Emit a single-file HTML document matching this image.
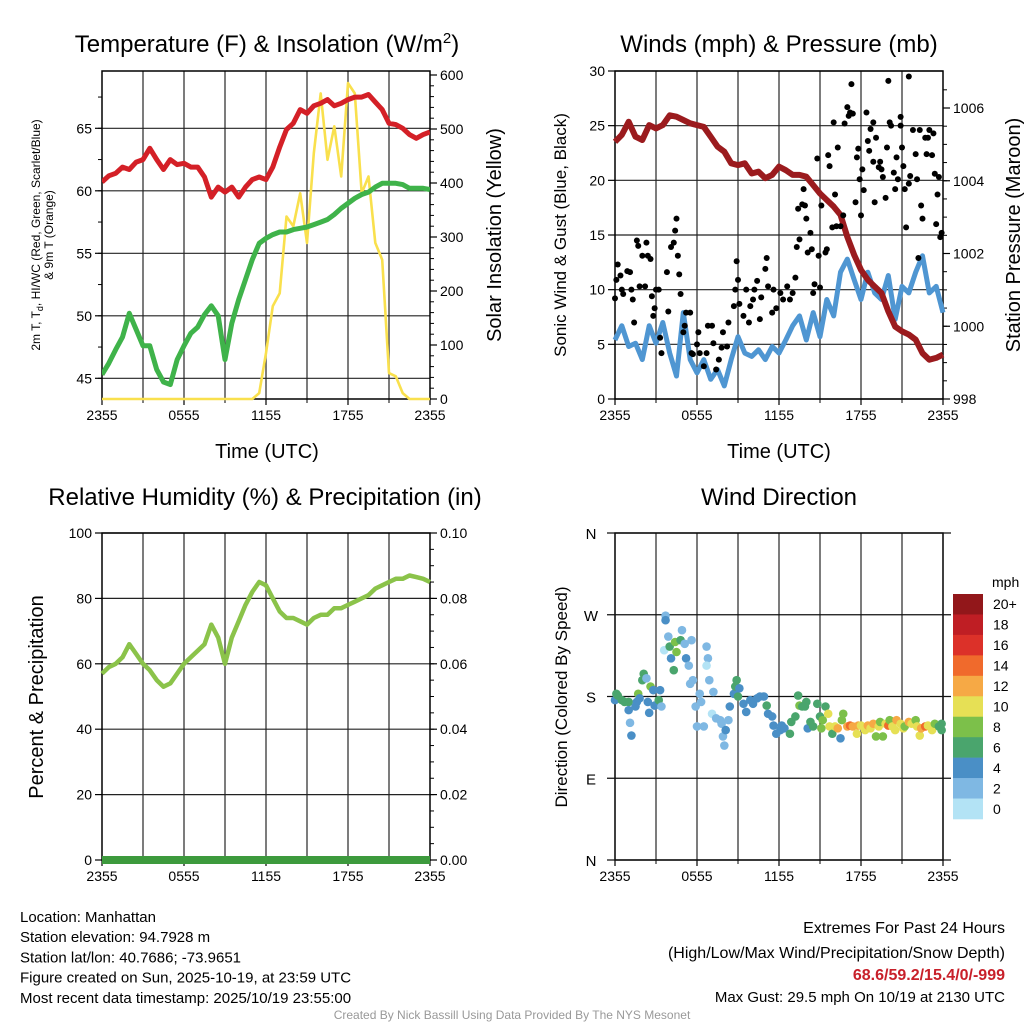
<!DOCTYPE html>
<html><head><meta charset="utf-8"><style>
html,body{margin:0;padding:0;background:#fff}
svg{display:block;font-family:"Liberation Sans",sans-serif}
</style></head><body>
<svg id="c" width="1024" height="1024" viewBox="0 0 1024 1024"></svg>
<script>
// ---- data ----
const hours = [];
for (let i = 0; i <= 48; i++) hours.push(i * 0.5);
const tempF = [60.7,61.2,61.4,61.9,61.7,62.3,62.5,63.4,62.5,61.7,62.5,62.1,62.2,61.9,61.9,61.1,59.5,60.3,59.9,60.3,59.5,60.3,60.9,61.1,60.9,61.9,63.5,64.9,65.4,66.5,66.2,66.8,67.0,67.3,66.8,67.0,67.3,67.5,67.5,67.7,67.1,66.5,65.4,65.3,65.0,64.5,64.2,64.5,64.7];
const dewF = [45.3,46.2,47.3,48.3,50.2,48.9,47.6,47.6,45.7,44.7,44.5,46.5,47.6,48.6,49.1,50.1,50.8,50.0,46.5,49.4,51.3,52.9,54.5,55.8,56.2,56.5,56.7,56.7,56.9,57.0,57.1,57.3,57.5,57.7,58.1,58.6,59.0,59.4,59.7,59.9,60.3,60.6,60.6,60.6,60.5,60.2,60.2,60.2,60.1];
const solarW = [0,0,0,0,0,0,0,0,0,0,0,0,0,0,0,0,0,0,0,0,0,0,0,11,85,172,196,338,320,381,289,455,566,443,505,412,585,566,381,412,289,258,48,42,11,0,0,0,0];
const pressMb = [1005.07,1005.26,1005.62,1005.21,1005.12,1005.53,1005.44,1005.53,1005.80,1005.76,1005.67,1005.58,1005.53,1005.48,1005.21,1004.94,1004.80,1004.48,1004.43,1004.48,1004.20,1004.25,1004.07,1004.16,1004.39,1004.29,1004.16,1004.16,1004.11,1003.88,1003.65,1003.47,1003.29,1003.06,1002.46,1001.96,1001.55,1001.28,1001.09,1000.91,1000.41,999.99,999.86,999.77,999.63,999.26,999.08,999.13,999.22];
const windMph = [5.4,6.7,4.8,5.1,3.6,6.7,5.1,7.0,4.2,2.1,7.9,3.6,2.4,3.6,1.8,2.7,1.2,3.6,5.7,4.2,3.9,4.5,3.6,4.8,4.2,5.4,6.7,7.6,5.4,7.9,5.7,9.1,7.6,11.6,12.8,10.9,9.1,11.6,9.7,9.1,11.3,7.3,10.3,9.7,11.6,13.1,9.7,10.3,7.9];
const gustHr = [0.0,0.1,0.2,0.4,0.5,0.6,0.9,1.1,1.2,1.3,1.4,1.6,1.7,1.8,2.0,2.2,2.3,2.4,2.6,2.7,2.8,2.9,3.0,3.2,3.3,3.4,3.8,3.9,4.1,4.3,4.4,4.5,4.6,4.7,4.8,5.0,5.1,5.2,5.5,5.6,5.7,6.0,6.1,6.2,6.5,6.7,6.8,7.1,7.2,7.4,7.6,7.8,7.9,8.2,8.3,8.7,8.8,8.9,9.0,9.1,9.4,9.6,9.8,9.9,10.1,10.2,10.4,10.6,10.7,11.0,11.1,11.2,11.5,11.6,11.8,12.1,12.3,12.6,12.8,13.0,13.2,13.3,13.4,13.5,13.7,13.8,13.9,14.0,14.1,14.3,14.4,14.5,14.6,14.8,14.9,15.0,15.1,15.4,15.5,15.6,15.7,15.9,16.0,16.1,16.2,16.3,16.5,16.7,16.8,17.0,17.1,17.2,17.3,17.4,17.6,17.7,17.8,17.9,18.0,18.1,18.2,18.4,18.5,18.6,18.7,18.9,18.9,19.0,19.1,19.3,19.4,19.5,19.6,19.8,19.9,20.0,20.1,20.2,20.4,20.5,20.6,20.7,20.9,20.9,21.0,21.1,21.2,21.3,21.5,21.5,21.6,21.8,22.0,22.1,22.2,22.3,22.4,22.5,22.7,22.8,22.9,23.0,23.2,23.3,23.4,23.5,23.6,23.7,23.8,23.9];
const gustMph = [9.2,10.9,12.3,11.3,10.0,9.6,11.7,11.6,10.0,9.1,7.0,14.5,14.0,10.3,13.1,10.3,14.3,13.1,12.8,9.4,7.6,8.3,10.0,10.0,5.6,4.2,11.6,8.0,13.9,14.3,15.4,16.5,13.1,11.4,9.6,6.1,6.7,7.9,7.9,4.2,4.1,5.0,6.1,4.2,3.0,4.2,6.7,6.7,5.1,2.7,3.6,4.7,6.1,4.8,7.0,8.5,10.0,12.6,10.9,8.7,7.6,10.0,7.0,8.5,9.1,10.0,10.8,7.3,9.3,11.9,12.9,10.3,7.9,10.0,8.3,9.7,9.1,10.3,9.1,9.7,11.1,13.9,17.4,14.6,17.8,19.2,17.7,16.5,13.4,15.2,13.7,9.7,10.5,22.0,13.1,10.2,17.7,13.4,13.7,22.3,21.3,15.7,25.3,18.7,15.8,23.0,15.8,16.8,25.2,26.7,25.9,26.2,28.8,26.1,18.0,22.1,22.9,20.1,16.8,21.0,19.1,26.2,23.6,22.7,24.7,25.3,21.7,18.0,23.9,21.2,21.7,21.0,20.3,18.4,23.0,29.1,25.3,25.0,20.7,19.2,22.1,20.1,25.8,25.0,23.0,21.3,19.2,15.7,19.7,29.5,20.4,24.6,22.4,20.1,12.9,24.6,17.7,16.5,23.9,22.4,23.9,24.6,22.3,24.3,20.6,16.0,18.7,20.3,14.8,15.2];
const rhPct = [57,59,60,62,66,63,60,58,55,53,54,57,60,62,64,66,72,68,60,68,73,78,82,85,84,80,76,74,74,73,72,74,75,75,77,77,78,79,80,81,83,84,85,86,86,87,86.5,86,85];
const precipIn = hours.map(() => 0);
const dirHr = [0,0.1,0.2,0.5,0.7,1.0,1.0,1.1,1.2,1.5,1.6,1.7,1.8,2.0,2.1,2.3,2.4,2.6,2.5,2.8,2.9,3.2,3.3,3.4,3.7,3.7,3.6,3.9,4.0,4.1,4.3,4.4,4.5,4.8,4.9,5.1,5.2,5.4,5.5,5.6,5.7,5.9,6.0,6.2,6.3,6.5,6.7,6.8,6.7,6.9,7.2,7.1,7.4,7.7,7.8,7.9,8.0,8.1,8.3,8.4,8.7,8.8,8.9,9.0,9.1,9.4,9.6,9.9,10.1,10.4,10.6,10.9,11.1,11.2,11.5,11.6,11.8,12.1,12.2,12.4,12.8,12.9,13.2,13.4,13.5,13.7,13.9,14.0,14.1,14.3,14.5,14.8,15.0,15.1,15.2,15.4,15.6,15.7,15.9,16.1,16.3,16.5,16.6,16.7,17.0,17.2,17.4,17.7,17.8,18.0,18.3,18.5,18.7,18.9,19.1,19.3,19.4,19.6,19.8,20.0,20.1,20.3,20.5,20.6,20.9,21.1,21.2,21.5,21.7,22.0,22.1,22.3,22.4,22.7,22.9,23.2,23.4,23.7,23.9,23.9];
const dirDeg = [176,183,181,176,174,174,165,151,137,169,174,183,178,198,205,200,174,191,162,187,170,176,187,169,269,264,231,246,235,222,209,240,229,242,253,238,222,214,194,242,198,169,147,183,174,147,235,222,214,198,185,161,156,154,150,136,126,143,154,169,183,191,198,180,189,172,163,176,172,178,180,180,170,161,158,148,139,143,148,145,139,152,158,181,170,169,169,174,145,152,147,172,158,145,154,169,161,147,139,147,145,134,154,161,147,148,147,139,148,148,143,148,145,150,136,147,152,136,150,148,154,147,143,154,150,145,147,152,150,154,147,137,145,147,148,143,150,147,150,143];
const dirSpd = [5,7,7,7,7,7,5,3,5,5,5,9,5,7,7,3,5,9,5,5,5,7,5,3,3,5,1,3,7,5,7,9,9,7,3,3,5,3,3,3,3,3,3,3,3,3,3,3,1,3,3,1,3,3,3,3,3,5,3,5,5,7,7,7,5,5,5,5,5,5,5,5,7,5,5,5,5,5,5,5,7,7,7,7,9,7,7,7,5,7,7,7,7,9,9,7,11,11,7,11,13,5,9,9,13,15,13,11,13,11,11,13,11,13,9,11,9,9,11,15,9,11,11,13,11,11,9,13,11,9,11,11,13,15,11,11,9,7,7,7];
const cbLabels = ["20+","18","16","14","12","10","8","6","4","2","0"];
const cbColors = ["#92171a","#bf1e24","#dc3129","#f06a2c","#f6a945","#e6e055","#7cc04a","#4aa56d","#4a8fc6","#7fb8e3","#b3e3f5"];
const xTickLabels = ["2355","0555","1155","1755","2355"];
const tempTicks = [45,50,55,60,65];
const solarTicks = [0,100,200,300,400,500,600];
const windTicks = [0,5,10,15,20,25,30];
const pressTicks = [998,1000,1002,1004,1006];
const rhTicks = [0,20,40,60,80,100];
const pcpTicks = ["0.00","0.02","0.04","0.06","0.08","0.10"];
const dirTicks = ["N","E","S","W","N"];

// ---- helpers ----
const NS = "http://www.w3.org/2000/svg";
const svg = document.getElementById("c");
function el(tag, attrs, parent, text) {
  const e = document.createElementNS(NS, tag);
  for (const k in attrs) e.setAttribute(k, attrs[k]);
  if (text !== undefined) e.textContent = text;
  (parent || svg).appendChild(e);
  return e;
}
function lin(d0, d1, r0, r1) { return v => r0 + (v - d0) * (r1 - r0) / (d1 - d0); }
function pathFrom(xs, ys, fx, fy) {
  return xs.map((x, i) => (i ? "L" : "M") + fx(x).toFixed(1) + "," + fy(ys[i]).toFixed(1)).join("");
}
function spdColor(s) { let i = Math.min(10, Math.floor(s / 2)); return cbColors[10 - i]; }

function frame(g, L, R, T, B, fx, hGrid) {
  for (let h = 3; h < 24; h += 3) el("line", {x1: fx(h), x2: fx(h), y1: T, y2: B, stroke: "#444", "stroke-width": 1.4}, g);
  hGrid.forEach(y => el("line", {x1: L, x2: R, y1: y, y2: y, stroke: "#222", "stroke-width": 1.2}, g));
  el("rect", {x: L, y: T, width: R - L, height: B - T, fill: "none", stroke: "#000", "stroke-width": 1.5}, g);
  xTickLabels.forEach((t, i) => {
    const x = fx(i * 6);
    el("line", {x1: x, x2: x, y1: B, y2: B + 6, stroke: "#000", "stroke-width": 1.2}, g);
    const tx = el("text", {x: x, y: B + 21, "font-size": 14, "text-anchor": "middle"}, g, t);
    
    
  });
  for (let h = 3; h < 24; h += 6) el("line", {x1: fx(h), x2: fx(h), y1: B, y2: B + 4, stroke: "#000"}, g);
}
function yTicks(g, x, vals, fy, side, labels, minorStep, lo, hi) {
  const d = side === "L" ? -1 : 1;
  if (minorStep) for (let v = lo; v <= hi + 1e-9; v += minorStep) el("line", {x1: x, x2: x + d * 4, y1: fy(v), y2: fy(v), stroke: "#000"}, g);
  vals.forEach((v, i) => {
    el("line", {x1: x, x2: x + d * 7, y1: fy(v), y2: fy(v), stroke: "#000", "stroke-width": 1.2}, g);
    const t = el("text", {x: x + d * 10, y: fy(v) + 5, "font-size": 14, "text-anchor": side === "L" ? "end" : "start"}, g, labels ? labels[i] : v);
    
    
  });
}
function rotText(g, x, y, txt, size, name) {
  const t = el("text", {x: 0, y: 0, "font-size": size, "text-anchor": "middle", transform: `translate(${x},${y}) rotate(-90)`}, g, txt);
  
  
  return t;
}
function title(g, x, y, txt, name) {
  const t = el("text", {x: x, y: y, "font-size": 24, "text-anchor": "middle"}, g, txt);
  
  
  return t;
}

// ---- Panel 1: temperature ----
{
  const g = el("g", {});  
  const L = 102, R = 430, T = 71, B = 399;
  const fx = lin(0, 24, L, R), fy = lin(45, 65, 378.3, 128.3), fs = lin(0, 600, 399, 75);
  frame(g, L, R, T, B, fx, tempTicks.map(fy));
  yTicks(g, L, tempTicks, fy, "L", null, 2.5, 45, 67.5);
  yTicks(g, R, solarTicks, fs, "R", null, 20, 0, 600);
  const cl = el("clipPath", {id: "cp1"}, g); el("rect", {x: L, y: T - 4, width: R - L, height: B - T + 8}, cl);
  const sg = el("g", {"clip-path": "url(#cp1)"}, g);
  const s1 = el("path", {d: pathFrom(hours, solarW, fx, fs), fill: "none", stroke: "#f9e04d", "stroke-width": 2.6, "stroke-linejoin": "round"}, sg);
   
  const s2 = el("path", {d: pathFrom(hours, dewF, fx, fy), fill: "none", stroke: "#3fb34a", "stroke-width": 5, "stroke-linejoin": "round"}, sg);
   
  const s3 = el("path", {d: pathFrom(hours, tempF, fx, fy), fill: "none", stroke: "#d42027", "stroke-width": 5, "stroke-linejoin": "round"}, sg);
   
  const t = el("text", {x: 267, y: 52, "font-size": 24, "text-anchor": "middle"}, g);
  t.innerHTML = 'Temperature (F) &amp; Insolation (W/m<tspan dy="-9" font-size="15">2</tspan><tspan dy="9">)</tspan>';
   
  const yl = el("text", {"font-size": 12, "text-anchor": "middle", transform: "translate(40,235) rotate(-90)"}, g);
  yl.innerHTML = '<tspan x="0" dy="0">2m T, T<tspan font-size="9" dy="3">d</tspan><tspan dy="-3">, HI/WC (Red, Green, Scarlet/Blue)</tspan></tspan><tspan x="0" dy="13">&amp; 9m T (Orange)</tspan>';
   
  rotText(g, 501, 235, "Solar Insolation (Yellow)", 20, "solar-y-axis-title");
  const xl = el("text", {x: 267, y: 458, "font-size": 20, "text-anchor": "middle"}, g, "Time (UTC)");
   
}

// ---- Panel 2: winds & pressure ----
{
  const g = el("g", {});  
  const L = 615, R = 943, T = 71, B = 399;
  const fx = lin(0, 24, L, R), fy = lin(0, 30, 399, 71), fp = lin(998, 1006, 399, 108);
  frame(g, L, R, T, B, fx, windTicks.map(fy));
  yTicks(g, L, windTicks, fy, "L", null, 0, 0, 0);
  yTicks(g, R, pressTicks, fp, "R", null, 0.5, 998, 1006.5);
  const b = el("path", {d: pathFrom(hours, windMph, fx, fy), fill: "none", stroke: "#4f96d2", "stroke-width": 5, "stroke-linejoin": "round"}, g);
   
  const p = el("path", {d: pathFrom(hours, pressMb, fx, fp), fill: "none", stroke: "#9b1b1e", "stroke-width": 6, "stroke-linejoin": "round"}, g);
   
  gustHr.forEach((h, i) => {
    const c = el("circle", {cx: fx(h), cy: fy(gustMph[i]), r: 3, fill: "#000"}, g);
    
    
  });
  title(g, 779, 52, "Winds (mph) & Pressure (mb)", "winds-title");
  rotText(g, 566, 235, "Sonic Wind & Gust (Blue, Black)", 17, "wind-y-axis-title");
  rotText(g, 1020, 235, "Station Pressure (Maroon)", 20, "pressure-y-axis-title");
  const xl = el("text", {x: 779, y: 458, "font-size": 20, "text-anchor": "middle"}, g, "Time (UTC)");
   
}

// ---- Panel 3: RH & precip ----
{
  const g = el("g", {});  
  const L = 102, R = 430, T = 533, B = 860;
  const fx = lin(0, 24, L, R), fy = lin(0, 100, B, T), fq = lin(0, 0.1, B, T);
  frame(g, L, R, T, B, fx, rhTicks.map(fy));
  yTicks(g, L, rhTicks, fy, "L", null, 0, 0, 0);
  yTicks(g, R, pcpTicks.map(Number), fq, "R", pcpTicks, 0.005, 0, 0.1);
  const r = el("path", {d: pathFrom(hours, rhPct, fx, fy), fill: "none", stroke: "#8bc34a", "stroke-width": 4.5, "stroke-linejoin": "round"}, g);
   
  const q = el("path", {d: pathFrom(hours, precipIn, fx, fq), fill: "none", stroke: "#3d9a3d", "stroke-width": 8}, g);
   
  title(g, 265, 505, "Relative Humidity (%) & Precipitation (in)", "humidity-title");
  rotText(g, 43, 697, "Percent & Precipitation", 20, "humidity-y-axis-title");
}

// ---- Panel 4: wind direction ----
{
  const g = el("g", {});  
  const L = 615, R = 943, T = 533, B = 860;
  const fx = lin(0, 24, L, R), fy = lin(0, 360, B, T);
  frame(g, L, R, T, B, fx, []);
  [0, 90, 180, 270, 360].forEach((v, i) => {
    el("line", {x1: L - 8, x2: R + 8, y1: fy(v), y2: fy(v), stroke: "#111", "stroke-width": 1.3}, g);
    const t = el("text", {x: L - 24, y: fy(v) + 6, "font-size": 15, "text-anchor": "middle"}, g, dirTicks[i]);
     
  });
  dirHr.forEach((h, i) => {
    const c = el("circle", {cx: fx(h), cy: fy(dirDeg[i]), r: 4.3, fill: spdColor(dirSpd[i])}, g);
    
    
  });
  title(g, 779, 505, "Wind Direction", "wind-direction-title");
  rotText(g, 567, 697, "Direction (Colored By Speed)", 17, "direction-y-axis-title");
  const cb = el("g", {}, g);  
  const h0 = (819 - 594) / cbColors.length;
  cbColors.forEach((c, i) => {
    el("rect", {x: 953, y: 594 + i * h0, width: 30, height: h0 + 0.3, fill: c}, cb);
    const t = el("text", {x: 993, y: 594 + i * h0 + h0 / 2 + 5, "font-size": 14}, cb, cbLabels[i]);
     
  });
  const u = el("text", {x: 992, y: 587, "font-size": 14}, cb, "mph");
   
}

// ---- footer ----
{
  const g = el("g", {"font-size": 15});  
  ["Location: Manhattan","Station elevation: 94.7928 m","Station lat/lon: 40.7686; -73.9651","Figure created on Sun, 2025-10-19, at 23:59 UTC","Most recent data timestamp: 2025/10/19 23:55:00"].forEach((s, i) => {
    const t = el("text", {x: 20, y: 922 + i * 20.2}, g, s);
     
  });
  const g2 = el("g", {"font-size": 15, "text-anchor": "end"});  
  let t = el("text", {x: 1005, y: 933, "font-size": 16}, g2, "Extremes For Past 24 Hours");  
  t = el("text", {x: 1005, y: 958, "font-size": 16}, g2, "(High/Low/Max Wind/Precipitation/Snow Depth)");  
  t = el("text", {x: 1005, y: 980, fill: "#c8202a", "font-weight": "bold", "font-size": 16}, g2, "68.6/59.2/15.4/0/-999");  
  t = el("text", {x: 1005, y: 1002}, g2, "Max Gust: 29.5 mph On 10/19 at 2130 UTC");  
  t = el("text", {x: 512, y: 1019, "font-size": 12, fill: "#999", "text-anchor": "middle"}, svg, "Created By Nick Bassill Using Data Provided By The NYS Mesonet");
   
}
</script>
</body></html>
